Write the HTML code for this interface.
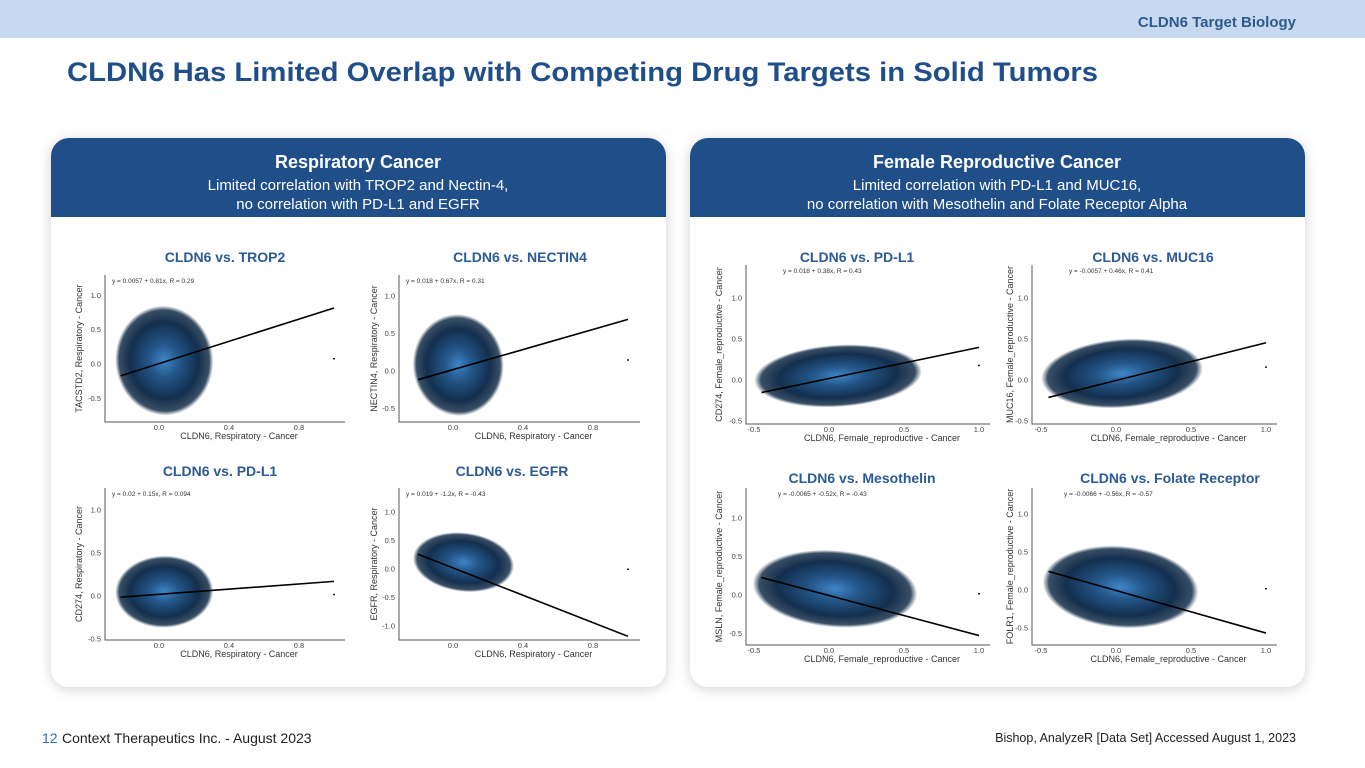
<!DOCTYPE html>
<html><head><meta charset="utf-8"><style>
html,body{margin:0;padding:0;background:#fff;}
svg{display:block;font-family:"Liberation Sans",Arial,sans-serif;}
</style></head><body>
<svg id="slide" width="1365" height="768" viewBox="0 0 1365 768" xmlns="http://www.w3.org/2000/svg">
<defs>
<radialGradient id="cloud" cx="50%" cy="50%" r="50%">
<stop offset="0" stop-color="#3f86c8"/><stop offset="0.3" stop-color="#24578a"/><stop offset="0.7" stop-color="#132f4e"/><stop offset="0.92" stop-color="#162f4a" stop-opacity="0.85"/><stop offset="1" stop-color="#1a3550" stop-opacity="0"/>
</radialGradient>
<filter id="sh" x="-10%" y="-10%" width="120%" height="120%"><feDropShadow dx="0" dy="2" stdDeviation="6" flood-color="#000" flood-opacity="0.18"/></filter>
</defs>
<rect x="0" y="0" width="1365" height="38" fill="#c6d9f0"/>
<text x="1296" y="27" text-anchor="end" font-size="15" font-weight="bold" fill="#2f5a8c">CLDN6 Target Biology</text>
<text x="67" y="81" font-size="27" font-weight="bold" fill="#1f4e89" textLength="1031" lengthAdjust="spacingAndGlyphs">CLDN6 Has Limited Overlap with Competing Drug Targets in Solid Tumors</text>

<g>
<rect x="51" y="138" width="615" height="549" rx="18" fill="#fff" filter="url(#sh)"/>
<path d="M51 217 V156 a18 18 0 0 1 18 -18 H648 a18 18 0 0 1 18 18 V217 Z" fill="#1f4e89"/>
<text x="358" y="168" text-anchor="middle" font-size="18" font-weight="bold" fill="#fff">Respiratory Cancer</text>
<text x="358" y="190" text-anchor="middle" font-size="15" fill="#fff">Limited correlation with TROP2 and Nectin-4,</text>
<text x="358" y="209" text-anchor="middle" font-size="15" fill="#fff">no correlation with PD-L1 and EGFR</text>
</g>
<g>
<rect x="690" y="138" width="615" height="549" rx="18" fill="#fff" filter="url(#sh)"/>
<path d="M690 217 V156 a18 18 0 0 1 18 -18 H1287 a18 18 0 0 1 18 18 V217 Z" fill="#1f4e89"/>
<text x="997" y="168" text-anchor="middle" font-size="18" font-weight="bold" fill="#fff">Female Reproductive Cancer</text>
<text x="997" y="190" text-anchor="middle" font-size="15" fill="#fff">Limited correlation with PD-L1 and MUC16,</text>
<text x="997" y="209" text-anchor="middle" font-size="15" fill="#fff">no correlation with Mesothelin and Folate Receptor Alpha</text>
</g>

<g id="plots"></g>

<text x="42" y="743" font-size="14" fill="#2f6db5">12</text>
<text x="62" y="743" font-size="14" fill="#222">Context Therapeutics Inc. - August 2023</text>
<text x="1296" y="742" text-anchor="end" font-size="12.5" fill="#222">Bishop, AnalyzeR [Data Set] Accessed August 1, 2023</text>
</svg>
<script>
// Chart data (values only)
const titles = ["CLDN6 vs. TROP2","CLDN6 vs. NECTIN4","CLDN6 vs. PD-L1","CLDN6 vs. EGFR","CLDN6 vs. PD-L1","CLDN6 vs. MUC16","CLDN6 vs. Mesothelin","CLDN6 vs. Folate Receptor"];
const yTitles = ["TACSTD2, Respiratory - Cancer","NECTIN4, Respiratory - Cancer","CD274, Respiratory - Cancer","EGFR, Respiratory - Cancer","CD274, Female_reproductive - Cancer","MUC16, Female_reproductive - Cancer","MSLN, Female_reproductive - Cancer","FOLR1, Female_reproductive - Cancer"];
const xTitles = ["CLDN6, Respiratory - Cancer","CLDN6, Respiratory - Cancer","CLDN6, Respiratory - Cancer","CLDN6, Respiratory - Cancer","CLDN6, Female_reproductive - Cancer","CLDN6, Female_reproductive - Cancer","CLDN6, Female_reproductive - Cancer","CLDN6, Female_reproductive - Cancer"];
const intercepts = [0.0057, 0.018, 0.02, 0.019, 0.018, -0.0057, -0.0065, -0.0066];
const slopes = [0.81, 0.67, 0.15, -1.2, 0.38, 0.46, -0.52, -0.56];
const rValues = [0.29, 0.31, 0.094, -0.43, 0.43, 0.41, -0.43, -0.57];
const eqLabels = ["y = 0.0057 + 0.81x,  R = 0.29","y = 0.018 + 0.67x,  R = 0.31","y = 0.02 + 0.15x,  R = 0.094","y = 0.019 + -1.2x,  R = -0.43","y = 0.018 + 0.38x,  R = 0.43","y = -0.0057 + 0.46x,  R = 0.41","y = -0.0065 + -0.52x,  R = -0.43","y = -0.0066 + -0.56x,  R = -0.57"];
const xFitMin = [-0.22,-0.2,-0.22,-0.2,-0.45,-0.45,-0.45,-0.45];
const xFitMax = [1.0,1.0,1.0,1.0,1.0,1.0,1.0,1.0];
const xTicksResp = [0.0, 0.4, 0.8];
const xTicksFem = [-0.5, 0.0, 0.5, 1.0];
const yTicksA = [-0.5, 0.0, 0.5, 1.0];
const yTicksEGFR = [-1.0, -0.5, 0.0, 0.5, 1.0];
// cloud centre / spread in data units
const cloudCx = [0.03,0.03,0.03,0.06,0.06,0.04,0.04,0.03];
const cloudCy = [0.05,0.08,0.05,0.12,0.05,0.08,0.08,0.04];
const cloudRx = [0.28,0.26,0.28,0.29,0.56,0.54,0.55,0.52];
const cloudRy = [0.8,0.68,0.42,0.52,0.38,0.42,0.5,0.54];
const outX = [1.0,1.0,1.0,1.0,1.0,1.0,1.0,1.0];
const outY = [0.08,0.15,0.02,0.0,0.18,0.16,0.02,0.02];

// layout (pixels): frame + axis mapping
const L = [
 {fx0:105,fx1:345,fy0:275,fy1:422, ox:159,sx:175, oy:364,sy:68.7, ylx:82, xt:xTicksResp, yt:yTicksA, tx:225,ty:262},
 {fx0:399,fx1:640,fy0:275,fy1:422, ox:453,sx:175, oy:371,sy:75, ylx:377, xt:xTicksResp, yt:yTicksA, tx:520,ty:262},
 {fx0:105,fx1:345,fy0:488,fy1:640, ox:159,sx:175, oy:596,sy:86, ylx:82, xt:xTicksResp, yt:yTicksA, tx:220,ty:476},
 {fx0:399,fx1:640,fy0:488,fy1:640, ox:453,sx:175, oy:569,sy:57, ylx:377, xt:xTicksResp, yt:yTicksEGFR, tx:512,ty:476},
 {fx0:746,fx1:990,fy0:265,fy1:424, ox:829,sx:150, oy:380,sy:82, ylx:722, xt:xTicksFem, yt:yTicksA, tx:857,ty:262},
 {fx0:1032,fx1:1277,fy0:265,fy1:424, ox:1116,sx:150, oy:380,sy:82, ylx:1013, xt:xTicksFem, yt:yTicksA, tx:1153,ty:262},
 {fx0:746,fx1:990,fy0:488,fy1:645, ox:829,sx:150, oy:595,sy:77, ylx:722, xt:xTicksFem, yt:yTicksA, tx:862,ty:483},
 {fx0:1032,fx1:1277,fy0:488,fy1:645, ox:1116,sx:150, oy:590,sy:76, ylx:1013, xt:xTicksFem, yt:yTicksA, tx:1170,ty:483}
];
const NS="http://www.w3.org/2000/svg";
const root=document.getElementById('plots');
function mk(tag,attrs,parent){const e=document.createElementNS(NS,tag);for(const k in attrs)e.setAttribute(k,attrs[k]);parent.appendChild(e);return e;}
function fmt(v){return v.toFixed(1);}
titles.forEach((t,i)=>{
  const c=L[i];
  const X=v=>c.ox+c.sx*v, Y=v=>c.oy-c.sy*v;
  const g=mk('g',{},root);
  
  
  const tt=mk('text',{x:c.tx,y:c.ty,'text-anchor':'middle','font-size':14,'font-weight':'bold',fill:'#2b5a94'},g);
  tt.textContent=t;
  
  
  const slopeAngle=-Math.atan(slopes[i]*c.sy/c.sx*0.3)*180/Math.PI;
  const cl=mk('ellipse',{cx:X(cloudCx[i]),cy:Y(cloudCy[i]),rx:cloudRx[i]*c.sx,ry:cloudRy[i]*c.sy,fill:'url(#cloud)',transform:`rotate(${slopeAngle} ${X(cloudCx[i])} ${Y(cloudCy[i])})`},g);
  
  
  const od=mk('rect',{x:X(outX[i])-1,y:Y(outY[i])-0.5,width:2,height:1.5,fill:'#222'},g);
  
  
  const ax=mk('path',{d:`M${c.fx0} ${c.fy0} V${c.fy1} H${c.fx1}`,stroke:'#555',fill:'none','stroke-width':1},g);
  
  
  c.xt.forEach(v=>{
    const tk=mk('text',{x:X(v),y:c.fy1+8,'text-anchor':'middle','font-size':7.5,fill:'#444'},g);
    tk.textContent=fmt(v);
    
    
  });
  c.yt.forEach(v=>{
    const tk=mk('text',{x:c.fx0-4,y:Y(v)+2.5,'text-anchor':'end','font-size':7.5,fill:'#444'},g);
    tk.textContent=fmt(v);
    
    
  });
  const xl=mk('text',{x:(c.fx0+c.fx1)/2+14,y:c.fy1+17,'text-anchor':'middle','font-size':9,fill:'#333'},g);
  xl.textContent=xTitles[i];
  
  
  const ym=(c.fy0+c.fy1)/2;
  const yl=mk('text',{x:c.ylx,y:ym,'text-anchor':'middle','font-size':9,fill:'#333',transform:`rotate(-90 ${c.ylx} ${ym})`},g);
  yl.textContent=yTitles[i];
  
  
  const x0=xFitMin[i], x1=xFitMax[i];
  const ln=mk('line',{x1:X(x0),y1:Y(intercepts[i]+slopes[i]*x0),x2:X(x1),y2:Y(intercepts[i]+slopes[i]*x1),stroke:'#000','stroke-width':1.6},g);
  
  
  const eq=mk('text',{x:i>=6? c.fx0+32 : c.fx0+7+(i>=4?30:0),y:c.fy0+8,'font-size':6.5,fill:'#333'},g);
  eq.textContent=eqLabels[i];
  
  
});
</script>
</body></html>
